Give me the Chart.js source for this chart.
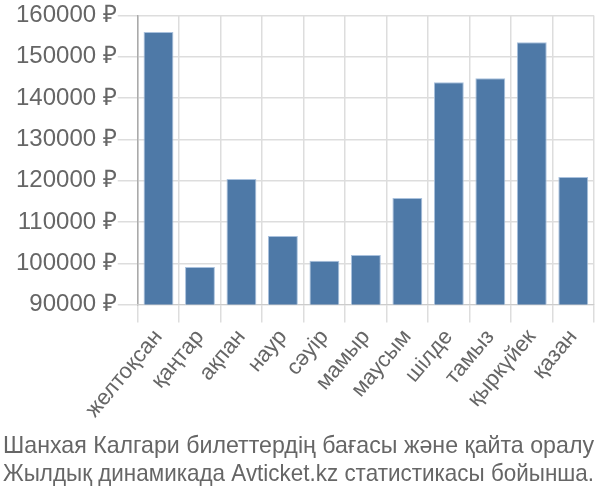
<!DOCTYPE html>
<html>
<head>
  <meta charset="UTF-8">
  <title>Шанхая Калгари</title>
  <script src="https://cdn.jsdelivr.net/npm/chart.js"></script>
  <style>
    html, body { margin: 0; padding: 0; background: #fff; }
    #wrap { width: 600px; height: 500px; }
  </style>
</head>
<body>
<div id="wrap"><canvas id="priceChart" width="600" height="500"></canvas></div>

<script>
  // айлар
  var months = ['желтоқсан', 'қаңтар', 'ақпан', 'наур', 'сәуір', 'мамыр', 'маусым', 'шілде', 'тамыз', 'қыркүйек', 'қазан'];
  // бағалар, ₽
  var prices = [156000, 99100, 120400, 106600, 100600, 102000, 115800, 143800, 144800, 153500, 120900];
  var titleLines = ['Шанхая Калгари билеттердің бағасы және қайта оралу', 'Жылдық динамикада Avticket.kz статистикасы бойынша.'];

  var ctx = document.getElementById('priceChart').getContext('2d');
  var priceChart = new Chart(ctx, {
    type: 'bar',
    data: {
      labels: months,
      datasets: [{
        data: prices,
        backgroundColor: '#4e79a7',
        borderColor: '#a9c1dd',
        borderWidth: { top: 1, left: 1, right: 1, bottom: 0 }
      }]
    },
    options: {
      responsive: false,
      animation: false,
      layout: { padding: { left: 3, right: 6, top: -8, bottom: 0 } },
      plugins: {
        legend: { display: false },
        tooltip: { enabled: false },
        title: {
          display: true,
          position: 'bottom',
          text: titleLines,
          color: '#666',
          font: { family: 'Liberation Sans', size: 23.6, weight: 'normal', lineHeight: 1.19 },
          padding: { top: 8, bottom: 11 },
          align: 'start'
        }
      },
      scales: {
        y: {
          min: 90000,
          max: 160000,
          afterFit: function(scale) { scale.width += 12; },
          ticks: {
            stepSize: 10000,
            color: '#666',
            padding: 1,
            font: { family: 'Liberation Sans', size: 24 },
            callback: function(v) { return v + ' ₽'; }
          },
          grid: { color: '#ddd', lineWidth: 1.5, tickLength: 20 },
          border: { color: '#aaa', width: 1.5 }
        },
        x: {
          ticks: {
            color: '#666',
            padding: 2,
            font: { family: 'Liberation Sans', size: 22 },
            minRotation: 50,
            maxRotation: 50
          },
          grid: { color: '#ddd', lineWidth: 1.5, offset: true, tickLength: 18 },
          border: { color: '#ccc' }
        }
      }
    }
  });
</script>
</body>
</html>
